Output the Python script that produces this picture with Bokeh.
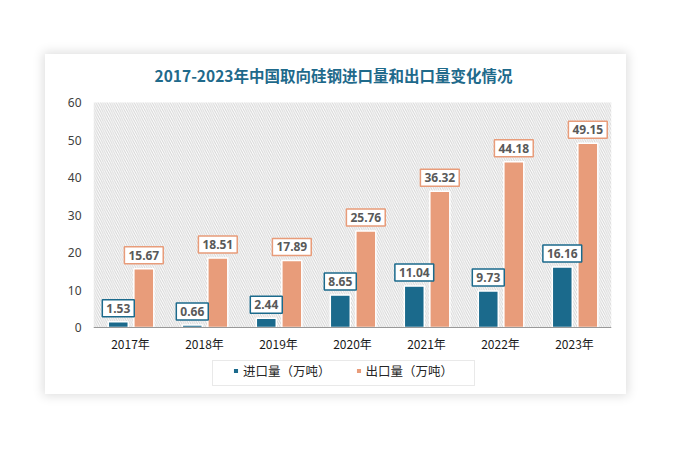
from bokeh.plotting import figure
from bokeh.models import (ColumnDataSource, FactorRange, BoxAnnotation, Legend, LegendItem,
                          Span, Label)
from bokeh.transform import dodge
from bokeh.core.properties import value
from bokeh.embed import file_html
from bokeh.resources import INLINE

years = ["2017年", "2018年", "2019年", "2020年", "2021年", "2022年", "2023年"]
imports = [1.53, 0.66, 2.44, 8.65, 11.04, 9.73, 16.16]
exports = [15.67, 18.51, 17.89, 25.76, 36.32, 44.18, 49.15]
y_ticks = [0, 10, 20, 30, 40, 50, 60]
series_names = ["进口量（万吨）", "出口量（万吨）"]
title_text = "2017-2023年中国取向硅钢进口量和出口量变化情况"

IMP = "#1B6A8C"
EXP = "#E89C7A"

src = ColumnDataSource(dict(
    year=years, imp=imports, exp=exports,
    imp_label=["%.2f" % v for v in imports],
    exp_label=["%.2f" % v for v in exports],
))

# the frame fills the whole card; the value axis spans 0..60 over 225 px (3.75 px per unit)
PX = 3.75
y_bottom = -(67 / PX)
y_top = 60 + 48 / PX
p = figure(x_range=FactorRange(*years), y_range=(y_bottom, y_top), title=None,
           width=581, height=340, output_backend="svg", toolbar_location=None,
           x_axis_location=None,
           min_border_left=48, min_border_right=15, min_border_top=0, min_border_bottom=0)
p.styles = {"margin-left": "45px", "margin-top": "54px",
            "box-shadow": "0px 0px 10px 2px rgba(0,0,0,0.13)"}
p.border_fill_color = "white"
p.background_fill_color = "white"
p.outline_line_color = None
p.xgrid.grid_line_color = None
p.ygrid.grid_line_color = None

# title centred on the middle of the category span, nudged left to the card centre
p.add_layout(Label(x=len(years) / 2, y=60 + 28 / PX, x_offset=-19, text=title_text,
                   text_align="center", text_baseline="middle",
                   text_font="Noto Sans CJK SC", text_font_size="15.5px",
                   text_font_style="bold", text_color="#1F6A8B"))

hatch = BoxAnnotation(bottom=0, top=60, fill_alpha=0, line_alpha=0,
                      hatch_pattern="left_diagonal_line", hatch_color="#d4d4d4",
                      hatch_scale=4.5, hatch_weight=1, level="underlay")
p.add_layout(hatch)
p.add_layout(Span(location=0, dimension="width", line_color="#999999", line_width=1))

r_imp = p.vbar(x=dodge("year", -0.165, range=p.x_range), top="imp", width=0.27, source=src,
               fill_color=IMP, line_color="white", line_width=1.5)
r_exp = p.vbar(x=dodge("year", 0.18, range=p.x_range), top="exp", width=0.27, source=src,
               fill_color=EXP, line_color="white", line_width=1.5)

common = dict(source=src, text_align="center", text_baseline="bottom", y_offset=-5,
              text_font=value("Noto Sans"), text_font_size="12px", text_font_style="bold",
              text_color="#595959", background_fill_color="white", padding=4,
              border_line_width=1.5)
p.text(x=dodge("year", -0.165, range=p.x_range), y="imp", text="imp_label",
       border_line_color=IMP, **common)
p.text(x=dodge("year", 0.18, range=p.x_range), y="exp", text="exp_label",
       border_line_color=EXP, **common)

# category labels under the zero line
p.text(x="year", y=0, text="year", source=src, text_align="center", text_baseline="middle",
       y_offset=16, text_font=value("Noto Sans CJK SC"), text_font_size="12px",
       text_color="#1a1a1a")

p.yaxis.ticker = y_ticks
p.yaxis.axis_line_color = None
p.yaxis.major_tick_line_color = None
p.yaxis.minor_tick_line_color = None
p.yaxis.major_tick_out = 0
p.yaxis.major_label_standoff = 12
p.yaxis.major_label_text_font = "Noto Sans"
p.yaxis.major_label_text_font_size = "12px"
p.yaxis.major_label_text_color = "#404040"

# legend box (empty-glyph item used only for the frame of the legend)
box_r = p.vbar(x=[], top=[], width=0.1, fill_color=None, line_color=None)
box = Legend(items=[LegendItem(label=value(""), renderers=[box_r])],
             location=(119, 8), padding=0, margin=0, spacing=0,
             glyph_width=240, glyph_height=24, label_width=21, label_height=24,
             label_standoff=0, border_line_color="#d4d4d4", border_line_width=1,
             background_fill_color="white", background_fill_alpha=1)
p.add_layout(box, "center")

legend = Legend(items=[LegendItem(label=series_names[0], renderers=[r_imp]),
                       LegendItem(label=series_names[1], renderers=[r_exp])],
                orientation="horizontal", location=(139, 14))
legend.glyph_width = 7
legend.glyph_height = 7
legend.label_standoff = 4
legend.spacing = 24
legend.padding = 0
legend.margin = 0
legend.label_height = 7
legend.label_text_font = "Noto Sans CJK SC"
legend.label_text_font_size = "12.5px"
legend.label_text_color = "#262626"
legend.border_line_color = None
legend.background_fill_alpha = 0
p.add_layout(legend, "center")

open("out.html", "w").write(file_html(p, INLINE))
